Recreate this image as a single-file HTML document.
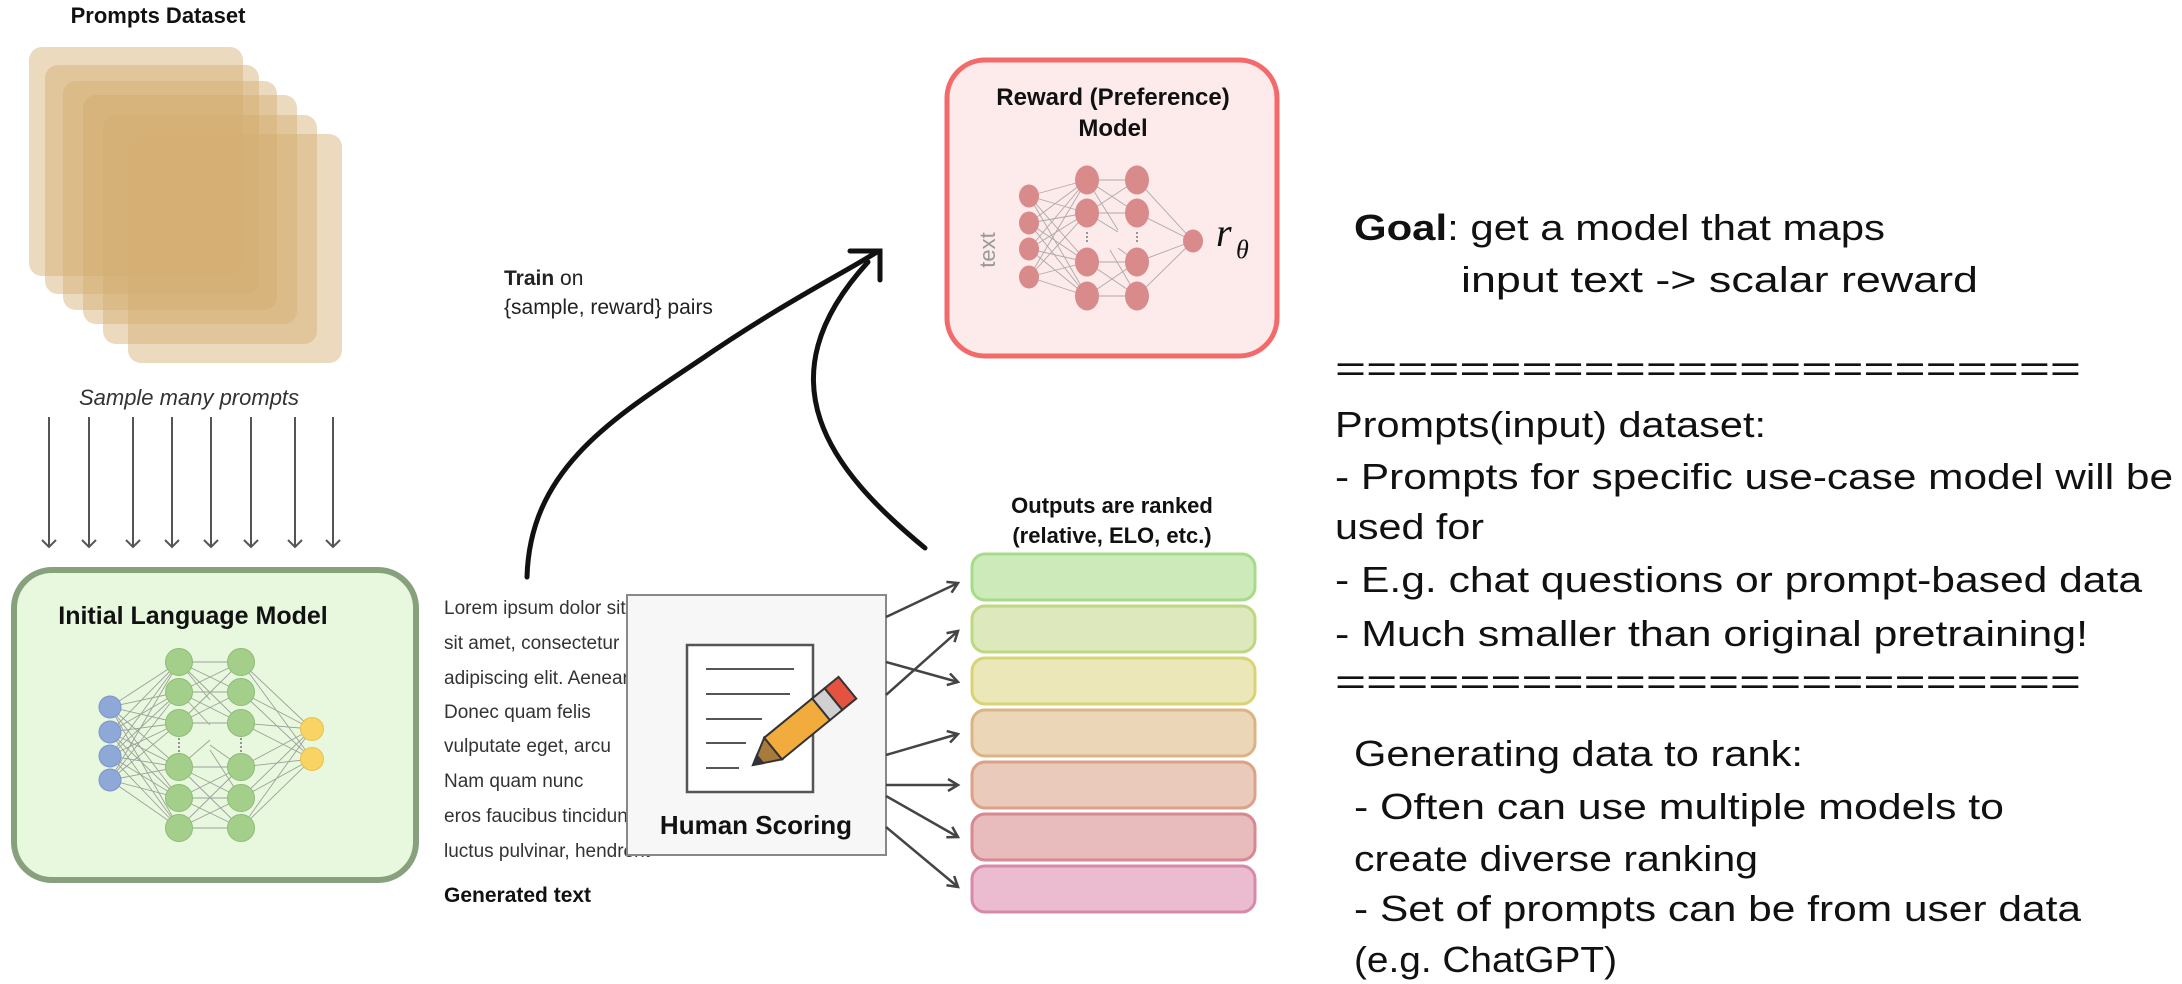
<!DOCTYPE html>
<html><head><meta charset="utf-8"><style>
html,body{margin:0;padding:0;background:#fff;}
svg{display:block;}
</style></head><body>
<svg width="2182" height="984" viewBox="0 0 2182 984" xmlns="http://www.w3.org/2000/svg" font-family="Liberation Sans, Arial, sans-serif">
<defs>
<marker id="ah" markerWidth="14" markerHeight="14" refX="11" refY="7" orient="auto" markerUnits="userSpaceOnUse">
<path d="M1,1 L11,7 L1,13" fill="none" stroke="#444" stroke-width="2.5"/>
</marker>
<marker id="ahg" markerWidth="16" markerHeight="16" refX="8" refY="14" orient="0" markerUnits="userSpaceOnUse">
<path d="M1,7 L8,14 L15,7" fill="none" stroke="#555" stroke-width="2"/>
</marker>
</defs>

<!-- Prompts dataset -->
<text x="158" y="23" font-size="22" font-weight="bold" text-anchor="middle" fill="#111">Prompts Dataset</text>
<g fill="#d4ac70" fill-opacity="0.45">
<rect x="29" y="47" width="214" height="229" rx="13"/>
<rect x="45" y="65" width="214" height="229" rx="13"/>
<rect x="63" y="81" width="214" height="229" rx="13"/>
<rect x="83" y="95" width="214" height="229" rx="13"/>
<rect x="103" y="115" width="214" height="229" rx="13"/>
<rect x="128" y="134" width="214" height="229" rx="13"/>
</g>
<text x="189" y="405" font-size="22" font-style="italic" text-anchor="middle" fill="#333">Sample many prompts</text>
<g stroke="#555" stroke-width="2" marker-end="url(#ahg)">
<line x1="49" y1="417" x2="49" y2="547"/>
<line x1="89" y1="417" x2="89" y2="547"/>
<line x1="133" y1="417" x2="133" y2="547"/>
<line x1="172" y1="417" x2="172" y2="547"/>
<line x1="211" y1="417" x2="211" y2="547"/>
<line x1="251" y1="417" x2="251" y2="547"/>
<line x1="295" y1="417" x2="295" y2="547"/>
<line x1="333" y1="417" x2="333" y2="547"/>
</g>

<!-- Initial LM -->
<rect x="14" y="570" width="402" height="310" rx="38" fill="#e8f8de" stroke="#87a17c" stroke-width="6"/>
<text x="193" y="624" font-size="25" font-weight="bold" text-anchor="middle" fill="#111">Initial Language Model</text>
<g stroke="#8a8a8a" stroke-width="0.9" opacity="0.8">
<!-- blue to green1 -->
<path d="M110,707L179,662M110,707L179,692M110,707L179,723M110,707L179,767M110,707L179,798M110,707L179,828
M110,732L179,662M110,732L179,692M110,732L179,723M110,732L179,767M110,732L179,798M110,732L179,828
M110,756L179,662M110,756L179,692M110,756L179,723M110,756L179,767M110,756L179,798M110,756L179,828
M110,780L179,662M110,780L179,692M110,780L179,723M110,780L179,767M110,780L179,798M110,780L179,828"/>
<path d="M179,662L241,662M179,662L241,692M179,662L241,723M179,662L210,700M179,692L241,662M179,692L241,692M179,692L241,723M179,692L210,725
M179,723L241,662M179,723L241,692M179,723L241,723M179,767L241,767M179,767L241,798M179,767L241,828M179,767L210,740M179,798L241,767M179,798L241,798M179,798L241,828
M179,828L241,767M179,828L241,798M179,828L241,828M241,767L210,745M241,798L210,750"/>
<path d="M241,662L312,729M241,662L312,759M241,692L312,729M241,692L312,759M241,723L312,729M241,723L312,759M241,767L312,729M241,767L312,759M241,798L312,729M241,798L312,759M241,828L312,729M241,828L312,759"/>
</g>
<g fill="#8ea8d8" stroke="#7a96c8" stroke-width="1">
<ellipse cx="110" cy="707" rx="11" ry="11"/><ellipse cx="110" cy="732" rx="11" ry="11"/>
<ellipse cx="110" cy="756" rx="11" ry="11"/><ellipse cx="110" cy="780" rx="11" ry="11"/>
</g>
<g fill="#a3cf8a" stroke="#8dbd75" stroke-width="1">
<circle cx="179" cy="662" r="13.5"/><circle cx="179" cy="692" r="13.5"/><circle cx="179" cy="723" r="13.5"/>
<circle cx="179" cy="767" r="13.5"/><circle cx="179" cy="798" r="13.5"/><circle cx="179" cy="828" r="13.5"/>
<circle cx="241" cy="662" r="13.5"/><circle cx="241" cy="692" r="13.5"/><circle cx="241" cy="723" r="13.5"/>
<circle cx="241" cy="767" r="13.5"/><circle cx="241" cy="798" r="13.5"/><circle cx="241" cy="828" r="13.5"/>
</g>
<g stroke="#777" stroke-width="1.5" stroke-dasharray="2,2"><line x1="179" y1="738" x2="179" y2="752"/><line x1="241" y1="738" x2="241" y2="752"/></g>
<g fill="#f9d464" stroke="#e8c050" stroke-width="1"><circle cx="312" cy="729" r="11.5"/><circle cx="312" cy="759" r="11.5"/></g>

<!-- Generated text -->
<g font-size="19" fill="#333">
<text x="444" y="614">Lorem ipsum dolor sit amet,</text>
<text x="444" y="649">sit amet, consectetur</text>
<text x="444" y="684">adipiscing elit. Aenean</text>
<text x="444" y="718">Donec quam felis</text>
<text x="444" y="752">vulputate eget, arcu</text>
<text x="444" y="787">Nam quam nunc</text>
<text x="444" y="822">eros faucibus tincidunt</text>
<text x="444" y="857">luctus pulvinar, hendrerit</text>
</g>
<text x="444" y="902" font-size="21" font-weight="bold" fill="#111">Generated text</text>

<!-- Human scoring -->
<rect x="627" y="595" width="259" height="260" fill="#f7f7f7" stroke="#888" stroke-width="2"/>
<rect x="687" y="645" width="126" height="147" fill="#fff" stroke="#555" stroke-width="2.5"/>
<g stroke="#555" stroke-width="2">
<line x1="706" y1="669" x2="794" y2="669"/><line x1="706" y1="694" x2="790" y2="694"/>
<line x1="706" y1="719" x2="762" y2="719"/><line x1="706" y1="743" x2="746" y2="743"/>
<line x1="706" y1="768" x2="739" y2="768"/>
</g>
<g transform="translate(753,765) rotate(-39.3)" stroke="#333" stroke-width="2">
<polygon points="0,0 26,-14 26,14" fill="#a87b3c"/>
<polygon points="0,0 9,-5 9,5" fill="#333"/>
<rect x="26" y="-14" width="62" height="28" fill="#f2ac3e"/>
<rect x="88" y="-14" width="16" height="28" fill="#d0d0d0"/>
<rect x="104" y="-14" width="18" height="28" fill="#e4533f"/>
</g>
<text x="756" y="834" font-size="26" font-weight="bold" text-anchor="middle" fill="#111">Human Scoring</text>

<!-- ranking arrows -->
<g stroke="#444" stroke-width="2.5" marker-end="url(#ahg2)" fill="none">
<line x1="886" y1="617" x2="958" y2="583" marker-end="url(#ah)"/>
<line x1="886" y1="695" x2="958" y2="631" marker-end="url(#ah)"/>
<line x1="886" y1="662" x2="958" y2="682" marker-end="url(#ah)"/>
<line x1="886" y1="755" x2="958" y2="734" marker-end="url(#ah)"/>
<line x1="886" y1="785" x2="958" y2="785" marker-end="url(#ah)"/>
<line x1="886" y1="796" x2="958" y2="837" marker-end="url(#ah)"/>
<line x1="886" y1="827" x2="958" y2="887" marker-end="url(#ah)"/>
</g>

<!-- ranked bars -->
<text x="1112" y="513" font-size="22" font-weight="bold" text-anchor="middle" fill="#111">Outputs are ranked</text>
<text x="1112" y="543" font-size="22" font-weight="bold" text-anchor="middle" fill="#111">(relative, ELO, etc.)</text>
<g stroke-width="3">
<rect x="972" y="554" width="283" height="46" rx="13" fill="#cdeabb" stroke="#a6dc88"/>
<rect x="972" y="606" width="283" height="46" rx="13" fill="#dde9bc" stroke="#bcd880"/>
<rect x="972" y="658" width="283" height="46" rx="13" fill="#ebe7b9" stroke="#d8d474"/>
<rect x="972" y="710" width="283" height="46" rx="13" fill="#ecd6b8" stroke="#dcb484"/>
<rect x="972" y="762" width="283" height="46" rx="13" fill="#eacabb" stroke="#dca288"/>
<rect x="972" y="814" width="283" height="46" rx="13" fill="#e8bcbc" stroke="#d88890"/>
<rect x="972" y="866" width="283" height="46" rx="13" fill="#ebbccf" stroke="#d888a8"/>
</g>

<!-- big arrows -->
<g fill="none" stroke="#111" stroke-width="5" stroke-linecap="round">
<path d="M527,577 C530,470 610,420 700,360 C780,305 840,275 877,252"/>
<path d="M925,548 C830,470 760,380 868,262"/>
<path d="M850,251 L880,251 L880,280"/>
</g>
<text x="504" y="285" font-size="21" fill="#222"><tspan font-weight="bold">Train</tspan> on</text>
<text x="504" y="314" font-size="21" fill="#222">{sample, reward} pairs</text>

<!-- Reward model -->
<rect x="947" y="60" width="330" height="296" rx="38" fill="#fdeaea" stroke="#f26a6a" stroke-width="5"/>
<text x="1113" y="105" font-size="24" font-weight="bold" text-anchor="middle" fill="#111">Reward (Preference)</text>
<text x="1113" y="136" font-size="24" font-weight="bold" text-anchor="middle" fill="#111">Model</text>
<g stroke="#999" stroke-width="0.9" opacity="0.8">
<path d="M1029,196L1087,180M1029,196L1087,213M1029,196L1087,262M1029,196L1087,296
M1029,223L1087,180M1029,223L1087,213M1029,223L1087,262M1029,223L1087,296
M1029,249L1087,180M1029,249L1087,213M1029,249L1087,262M1029,249L1087,296
M1029,277L1087,180M1029,277L1087,213M1029,277L1087,262M1029,277L1087,296
M1087,180L1137,180M1087,180L1137,213M1087,180L1118,230M1087,213L1137,180M1087,213L1137,213M1087,213L1118,232
M1087,262L1137,262M1087,262L1137,296M1087,296L1137,262M1087,296L1137,296M1137,262L1118,248M1137,296L1110,250
M1137,180L1193,241M1137,213L1193,241M1137,262L1193,241M1137,296L1193,241"/>
</g>
<g fill="#d98a8a">
<ellipse cx="1029" cy="196" rx="10" ry="11.5"/><ellipse cx="1029" cy="223" rx="10" ry="11.5"/>
<ellipse cx="1029" cy="249" rx="10" ry="11.5"/><ellipse cx="1029" cy="277" rx="10" ry="11.5"/>
<ellipse cx="1087" cy="180" rx="12" ry="14.5"/><ellipse cx="1087" cy="213" rx="12" ry="14.5"/>
<ellipse cx="1087" cy="262" rx="12" ry="14.5"/><ellipse cx="1087" cy="296" rx="12" ry="14.5"/>
<ellipse cx="1137" cy="180" rx="12" ry="14.5"/><ellipse cx="1137" cy="213" rx="12" ry="14.5"/>
<ellipse cx="1137" cy="262" rx="12" ry="14.5"/><ellipse cx="1137" cy="296" rx="12" ry="14.5"/>
<ellipse cx="1193" cy="241" rx="10" ry="11.5"/>
</g>
<g stroke="#777" stroke-width="1.5" stroke-dasharray="2,2"><line x1="1087" y1="232" x2="1087" y2="244"/><line x1="1137" y1="232" x2="1137" y2="244"/></g>
<text transform="translate(995,250) rotate(-90)" font-size="22" text-anchor="middle" fill="#999">text</text>
<text x="1216" y="246" font-size="40" font-style="italic" font-family="Liberation Serif, serif" fill="#111">r</text>
<text x="1236" y="258" font-size="26" font-style="italic" font-family="Liberation Serif, serif" fill="#111">θ</text>

<!-- Right text -->
<g font-size="36" fill="#111" font-family="Liberation Sans, 'Noto Sans CJK SC', sans-serif" lengthAdjust="spacingAndGlyphs">
<text x="1354" y="240" textLength="531" lengthAdjust="spacingAndGlyphs"><tspan font-weight="bold">Goal</tspan>: get a model that maps</text>
<text x="1461" y="292" textLength="517" lengthAdjust="spacingAndGlyphs">input text  -&gt;  scalar reward</text>
<text x="1335" y="381" textLength="746" lengthAdjust="spacingAndGlyphs">========================</text>
<text x="1335" y="437" textLength="431" lengthAdjust="spacingAndGlyphs">Prompts(input) dataset:</text>
<text x="1335" y="489" textLength="838" lengthAdjust="spacingAndGlyphs">- Prompts for specific use-case model will be</text>
<text x="1335" y="539" textLength="149" lengthAdjust="spacingAndGlyphs">used for</text>
<text x="1335" y="592" textLength="807" lengthAdjust="spacingAndGlyphs">- E.g. chat questions or prompt-based data</text>
<text x="1335" y="646" textLength="753" lengthAdjust="spacingAndGlyphs">- Much smaller than original pretraining!</text>
<text x="1335" y="694" textLength="746" lengthAdjust="spacingAndGlyphs">========================</text>
<text x="1354" y="766" textLength="449" lengthAdjust="spacingAndGlyphs">Generating data to rank:</text>
<text x="1354" y="819" textLength="650" lengthAdjust="spacingAndGlyphs">- Often can use multiple models to</text>
<text x="1354" y="871" textLength="404" lengthAdjust="spacingAndGlyphs">create diverse ranking</text>
<text x="1354" y="921" textLength="727" lengthAdjust="spacingAndGlyphs">- Set of prompts can be from user data</text>
<text x="1354" y="972" textLength="263" lengthAdjust="spacingAndGlyphs">(e.g. ChatGPT)</text>
</g>
</svg>
</body></html>
